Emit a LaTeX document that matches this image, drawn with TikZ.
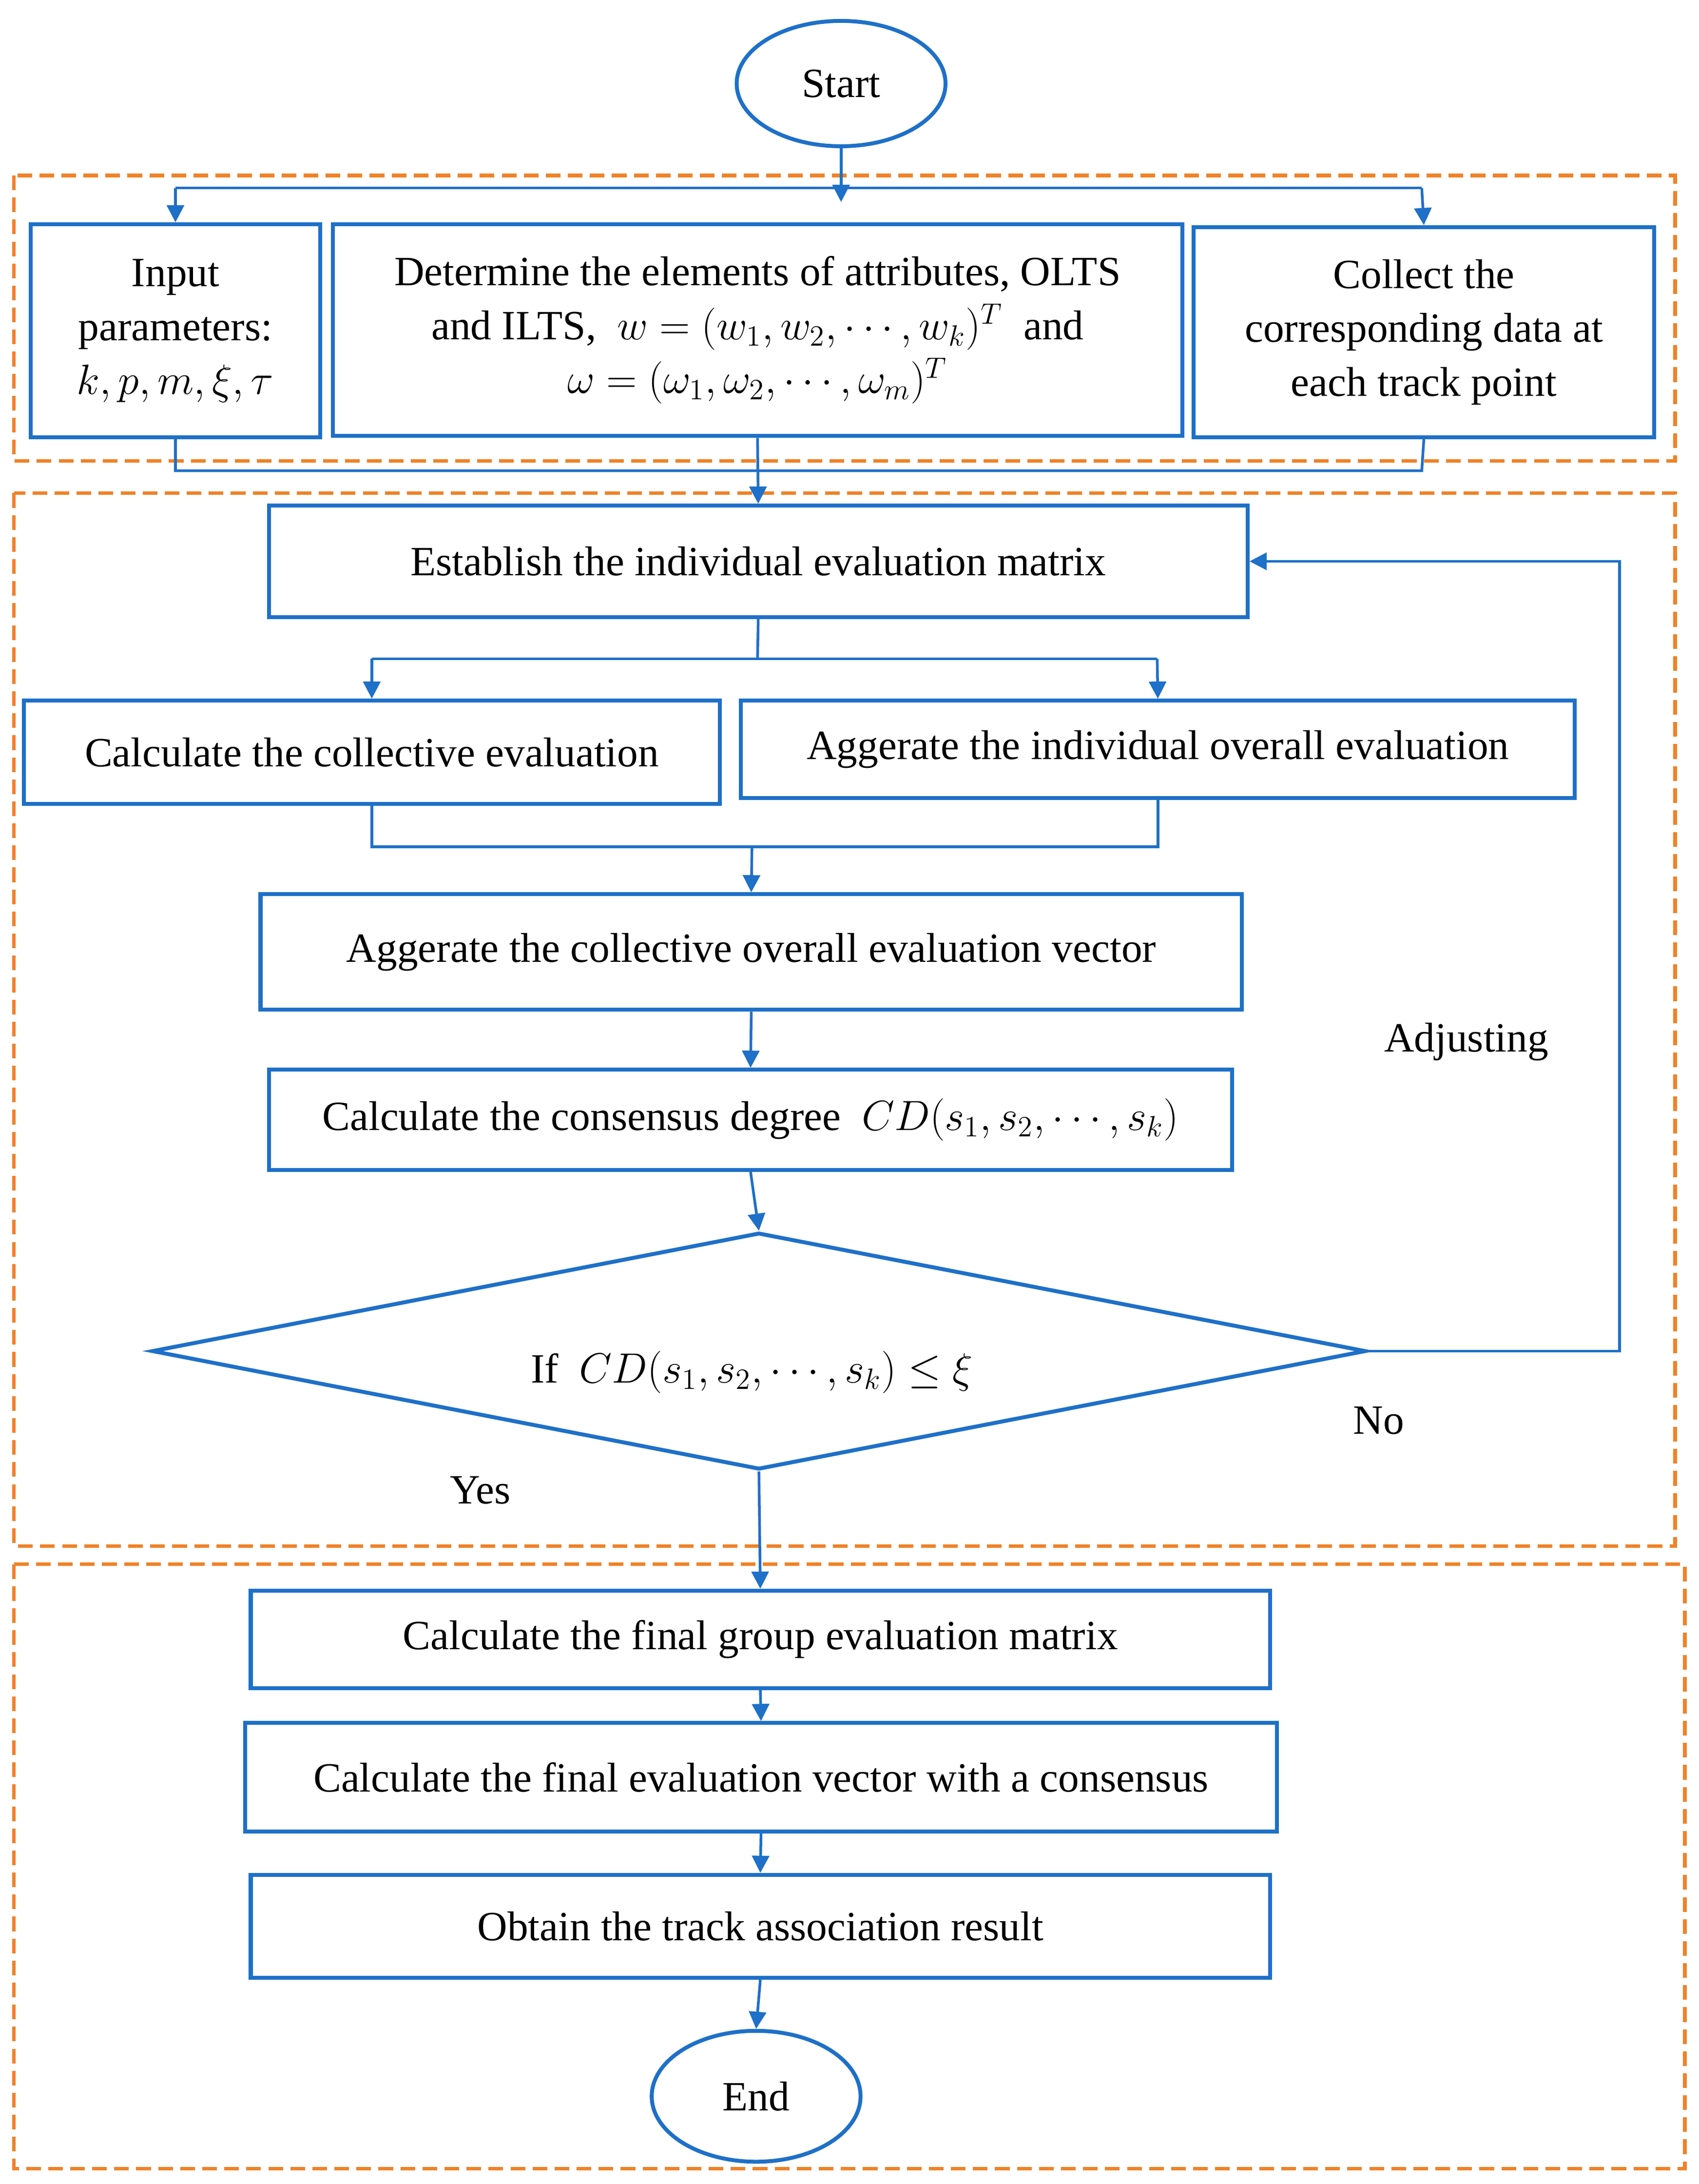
\documentclass[tikz,border=0pt]{standalone}
\usepackage{fontspec}
\setmainfont{Liberation Serif}
\usetikzlibrary{shapes.geometric,arrows.meta}
\definecolor{fb}{RGB}{30,112,200}
\definecolor{fo}{RGB}{240,130,40}
\begin{document}
\begin{tikzpicture}[x=0.02cm,y=-0.02cm,
  box/.style={draw=fb,line width=1.6pt,inner sep=0pt,align=center,font=\fontsize{17}{22}\selectfont},
  grp/.style={draw=fo,line width=1.5pt,dash pattern=on 6pt off 3pt},
  ln/.style={draw=fb,line width=1.1pt},
  arr/.style={ln,-{Triangle[length=7pt,width=7pt]}},
  lab/.style={font=\fontsize{17}{20}\selectfont}]
\useasboundingbox (0,0) rectangle (1220,1568);
\draw[grp] (10,126) rectangle (1203,331);
\draw[grp] (10,354) rectangle (1203,1110);
\draw[grp] (10,1123) rectangle (1210,1557);
\node[box,ellipse,minimum width=3cm,minimum height=1.8cm] (start) at (604,60) {Start};
\node[box,minimum width=4.16cm,minimum height=3.06cm] (inp) at (126,237.5) {Input\\parameters:\\$k,p,m,\xi,\tau$};
\node[box,minimum width=12.2cm,minimum height=3.04cm] (det) at (544,237) {Determine the elements of attributes, OLTS\\and ILTS, \ $w=(w_1,w_2,\cdots,w_k)^T$ \ and\\$\omega=(\omega_1,\omega_2,\cdots,\omega_m)^T$};
\node[box,minimum width=6.62cm,minimum height=3.02cm] (col) at (1022.5,238.5) {Collect the\\corresponding data at\\each track point};
\node[box,minimum width=14.06cm,minimum height=1.6cm] (est) at (544.5,403) {Establish the individual evaluation matrix};
\node[box,minimum width=10cm,minimum height=1.48cm] (cce) at (267,540) {Calculate the collective evaluation};
\node[box,minimum width=11.98cm,minimum height=1.4cm] (aie) at (831.5,538) {Aggerate the individual overall evaluation};
\node[box,minimum width=14.1cm,minimum height=1.66cm] (ace) at (539.5,683.5) {Aggerate the collective overall evaluation vector};
\node[box,minimum width=13.84cm,minimum height=1.44cm] (ccd) at (539,804) {Calculate the consensus degree \ $CD(s_1,s_2,\cdots,s_k)$};
\node[box,diamond,minimum width=17.44cm,minimum height=3.4cm] (dec) at (545,970) {};
\node[lab] (dect) at (540,985) {If \ $CD(s_1,s_2,\cdots,s_k)\le\xi$};
\node[box,minimum width=14.64cm,minimum height=1.4cm] (fge) at (546,1177) {Calculate the final group evaluation matrix};
\node[box,minimum width=14.82cm,minimum height=1.56cm] (fev) at (546.5,1276) {Calculate the final evaluation vector with a consensus};
\node[box,minimum width=14.64cm,minimum height=1.48cm] (obt) at (546,1383) {Obtain the track association result};
\node[box,ellipse,minimum width=3cm,minimum height=1.88cm] (end) at (543,1505) {End};
\node[lab] (no) at (990,1020) {No};
\node[lab] (yes) at (345,1070) {Yes};
\node[lab] (adj) at (1053,748) {Adjusting};
\draw[arr] (start.south) -- (604,145);
\draw[ln] (126,135) -- (1021,135);
\draw[arr] (126,135) -- (inp.north);
\draw[arr] (1021,135) -- (col.north);
\draw[ln] (inp.south) |- (1021,338) -- (col.south);
\draw[arr] (det.south) -- (est.north);
\draw[ln] (est.south) -- (544,473);
\draw[ln] (267,473) -- (831,473);
\draw[arr] (267,473) -- (cce.north);
\draw[arr] (831,473) -- (aie.north);
\draw[ln] (cce.south) |- (540,608);
\draw[ln] (aie.south) |- (540,608);
\draw[arr] (540,608) -- (ace.north);
\draw[arr] (ace.south) -- (ccd.north);
\draw[arr] (ccd.south) -- (dec.north);
\draw[arr] (dec.east) -- (1163,970) |- (est.east);
\draw[arr] (dec.south) -- (fge.north);
\draw[arr] (fge.south) -- (fev.north);
\draw[arr] (fev.south) -- (obt.north);
\draw[arr] (obt.south) -- (end.north);
\end{tikzpicture}
\end{document}
